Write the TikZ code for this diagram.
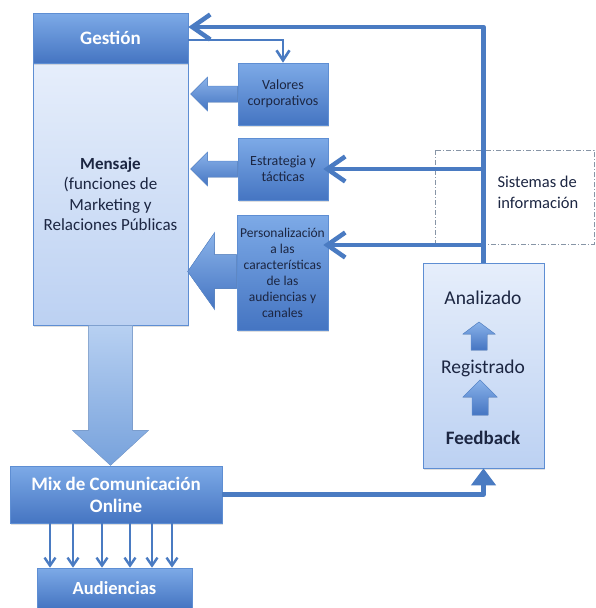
\documentclass[tikz,border=0pt]{standalone}
\usepackage{fontspec}
\setmainfont{Carlito}
\usetikzlibrary{arrows.meta,shadows}
\definecolor{hdtop}{HTML}{7DAAE7}
\definecolor{hdbot}{HTML}{4575C2}
\definecolor{lttop}{HTML}{E6EEFB}
\definecolor{ltbot}{HTML}{BCD1F2}
\definecolor{edge}{HTML}{5E8ED3}
\definecolor{flow}{HTML}{4A7BC2}
\definecolor{ink}{HTML}{1C2642}
\definecolor{dashgray}{HTML}{8795A6}
\begin{document}
\begin{tikzpicture}[x=1pt,y=-1pt,
  shade box/.style={draw=edge, line width=0.6pt, top color=hdtop, bottom color=hdbot,
    drop shadow={shadow xshift=1.2pt, shadow yshift=-1.5pt, opacity=0.25}},
  headbox/.style={shade box, text=white, font=\fontsize{19}{22}\selectfont\bfseries, align=center, inner sep=2pt},
  sidebox/.style={shade box, text=ink, font=\fontsize{14}{16}\selectfont, align=center, inner sep=1pt},
  lightbox/.style={draw=edge, line width=0.6pt, top color=lttop, bottom color=ltbot,
    drop shadow={shadow xshift=1.2pt, shadow yshift=-1.5pt, opacity=0.25}},
  blockarrow/.style={draw=edge, line width=0.5pt, top color=hdtop!90, bottom color=hdbot},
  downarrow/.style={draw=edge!80, line width=0.5pt, top color=hdtop!55, bottom color=hdtop!95!black},
  flowline/.style={draw=flow, line width=4.5pt, line join=round},
  barbtip/.style={-{Straight Barb[length=18pt,width=25pt]}},
  thinarrow/.style={draw=flow, line width=2.6pt, -{Straight Barb[length=10pt,width=13pt]}},
  smallarrow/.style={draw=flow, line width=2.4pt, -{Straight Barb[length=8pt,width=11pt]}},
  fbtext/.style={text=ink, font=\fontsize{19.5}{22}\selectfont}
]
\useasboundingbox (0,0) rectangle (596,608);

% --- left column: management header and message body
\node[lightbox, minimum width=155pt, minimum height=262pt, text=ink,
      font=\fontsize{17}{20.5}\selectfont, align=center] (mens) at (110.5,194)
  {\textbf{Mensaje}\\(funciones de\\Marketing y\\Relaciones Públicas};
\node[headbox, minimum width=155pt, minimum height=50pt] (gest) at (110.5,38) {Gestión};

% --- side boxes feeding the message
\node[sidebox, minimum width=90pt, minimum height=62pt] (val) at (283,94) {Valores\\corporativos};
\node[sidebox, minimum width=90pt, minimum height=62pt] (est) at (283,169) {Estrategia y\\tácticas};
\node[sidebox, minimum width=91pt, minimum height=115pt, font=\fontsize{13.5}{16}\selectfont] (pers) at (282.5,272.5)
  {Personalización\\a las\\características\\de las\\audiencias y\\canales};

% --- information systems frame
\draw[dashgray, line width=0.7pt, dash pattern=on 5pt off 2pt on 1pt off 2pt]
  (435,150) rectangle (594,244);
\node[text=ink, font=\fontsize{16.5}{21}\selectfont, align=left, anchor=west] (sis) at (494,192)
  {Sistemas de\\información};

% --- feedback box
\node[lightbox, minimum width=121pt, minimum height=205pt] (feed) at (483.5,365.5) {};
\node[fbtext] (anl) at (483,298) {Analizado};
\node[fbtext] (reg) at (483,368) {Registrado};
\node[fbtext, font=\fontsize{19}{22}\selectfont\bfseries] (fbk) at (483,438) {Feedback};

% --- communication mix and audiences
\node[headbox, minimum width=212pt, minimum height=57pt] (mix) at (116,494.5)
  {Mix de Comunicación\\Online};
\node[headbox, minimum width=155pt, minimum height=40pt, font=\fontsize{18.5}{22}\selectfont\bfseries] (aud) at (114.5,588) {Audiencias};

% --- block arrows into the message
\fill[blockarrow, shift={(val.west)}]
  (0,-8) -- (-30,-8) -- (-30,-17) -- (-47,0) -- (-30,17) -- (-30,8) -- (0,8) -- cycle;
\fill[blockarrow, shift={(est.west)}]
  (0,-8) -- (-30,-8) -- (-30,-17) -- (-47,0) -- (-30,17) -- (-30,8) -- (0,8) -- cycle;
\fill[blockarrow, shift={(pers.west)}]
  (0,-18) -- (-22,-18) -- (-22,-40) -- (-49,-1) -- (-22,37) -- (-22,16) -- (0,16) -- cycle;

% --- block arrow from message down to the mix
\fill[downarrow, shift={(mens.south)}]
  (-22,0) -- (-22,105) -- (-38,105) -- (0,140) -- (38,105) -- (22,105) -- (22,0) -- cycle;

% --- up arrows inside the feedback box
\fill[blockarrow, shift={(479,350)}]
  (-8,0) -- (-8,-16) -- (-16,-16) -- (0,-28) -- (16,-16) -- (8,-16) -- (8,0) -- cycle;
\fill[blockarrow, shift={(480,415)}]
  (-8,0) -- (-8,-18) -- (-17,-18) -- (0,-35) -- (17,-18) -- (8,-18) -- (8,0) -- cycle;

% --- management to corporate values
\draw[thinarrow] (gest.east |- 0,40) -| (val.north);

% --- feedback loop back to management and to strategy boxes
\coordinate (top) at (feed.north |- 0,27);
\coordinate (b1) at (feed.north |- est.east);
\coordinate (b2) at (feed.north |- 0,245);
\draw[flowline, barbtip] (feed.north) -- (top) -- (gest.east |- top);
\draw[flowline, barbtip, shorten >=-5pt] (b1) -- (est.east);
\draw[flowline, barbtip, shorten >=-5pt] (b2) -- (pers.east |- b2);

% --- mix output to feedback
\draw[flowline, -{Triangle[length=17pt,width=24pt]}] (mix.east) -| (feed.south);

% --- mix to audiences
\foreach \x in {50,73,102,130,152,172}
  \draw[smallarrow] (mix.south -| \x,0) -- (aud.north -| \x,0);
\end{tikzpicture}
\end{document}
